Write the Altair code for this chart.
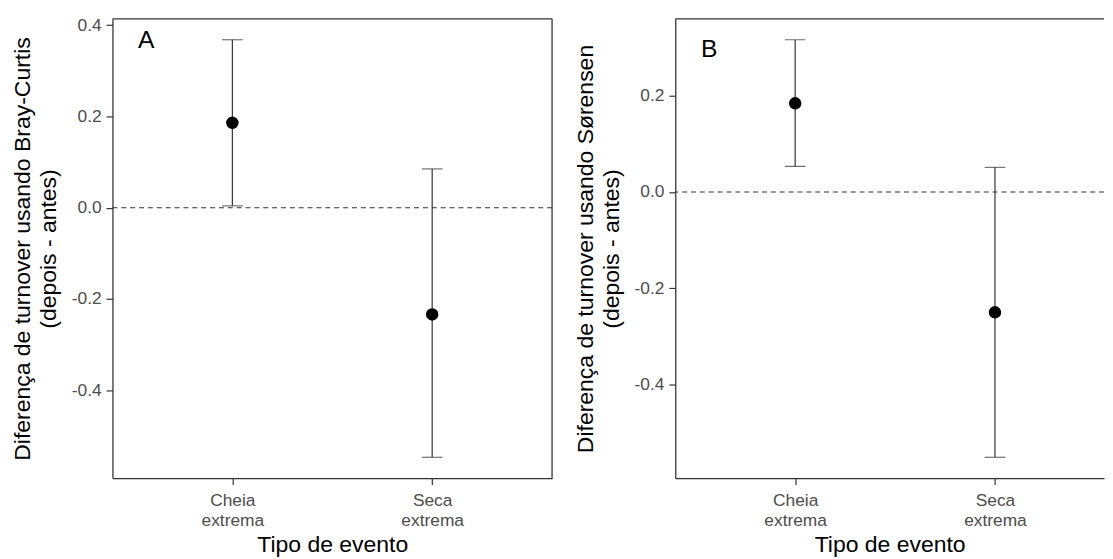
import altair as alt
import pandas as pd

FONT = "Liberation Sans"

# ---- data ----
categories = ["Cheia extrema", "Seca extrema"]
category_lines = [["Cheia", "extrema"], ["Seca", "extrema"]]
positions = [1, 2]

bc_est = [0.186, -0.234]
bc_low = [0.004, -0.547]
bc_high = [0.368, 0.085]

sor_est = [0.184, -0.250]
sor_low = [0.053, -0.551]
sor_high = [0.316, 0.051]

y_ticks_a = [-0.4, -0.2, 0.0, 0.2, 0.4]
y_ticks_b = [-0.4, -0.2, 0.0, 0.2]

panel_letters = ["A", "B"]
y_titles = [
    ["Diferença de turnover usando Bray-Curtis", "(depois - antes)"],
    ["Diferença de turnover usando Sørensen", "(depois - antes)"],
]
x_title = "Tipo de evento"

# ---- layout (pixels) ----
H = 466
W_A = 446
W_B = 435
STEP = W_A / 2.2  # px per category unit (ggplot discrete expansion 0.6)
BORDER = "#333333"


def expanded(lo, hi, mult=0.05):
    r = hi - lo
    return [lo - mult * r, hi + mult * r]


x_label_expr = " : ".join(
    [f"datum.value == {p} ? {lines!r}" for p, lines in zip(positions[:-1], category_lines[:-1])]
    + [repr(category_lines[-1])]
)
y_label_expr = "datum.value < -0.0001 ? '-' + format(-datum.value, '.1f') : format(abs(datum.value), '.1f')"


def panel(est, low, high, yticks, ytitle, letter, width, right_border):
    df = pd.DataFrame({"pos": positions, "cat": categories, "est": est, "low": low, "high": high})
    one = pd.DataFrame({"lab": [letter]})
    ydom = expanded(min(low), max(high))
    xscale = alt.Scale(domain=[0.4, 0.4 + width / STEP], nice=False, zero=False)
    yscale = alt.Scale(domain=ydom, nice=False, zero=False)
    xaxis = alt.Axis(values=positions, labelExpr=x_label_expr, title=x_title,
                     labelLineHeight=20, labelPadding=7.5, titlePadding=5)
    yaxis = alt.Axis(values=yticks, labelExpr=y_label_expr, title=ytitle,
                     titleLineHeight=26, labelPadding=5, titlePadding=11)

    def X(field="pos"):
        return alt.X(f"{field}:Q", scale=xscale, axis=xaxis)

    def Y(field):
        return alt.Y(f"{field}:Q", scale=yscale, axis=yaxis)

    base = alt.Chart(df)
    zero = alt.Chart(pd.DataFrame({"z": [0]})).mark_rule(
        color=BORDER, strokeWidth=1.1, strokeDash=[5, 4]
    ).encode(y=alt.Y("z:Q", scale=yscale, axis=yaxis))
    bars = base.mark_rule(color=BORDER, strokeWidth=1.2).encode(x=X(), y=Y("low"), y2="high:Q")
    cap_lo = base.mark_tick(color=BORDER, orient="horizontal", size=21, thickness=1.2).encode(x=X(), y=Y("low"))
    cap_hi = base.mark_tick(color=BORDER, orient="horizontal", size=21, thickness=1.2).encode(x=X(), y=Y("high"))
    pts = base.mark_point(filled=True, color="black", size=160, opacity=1).encode(x=X(), y=Y("est"))
    txt = alt.Chart(one).mark_text(
        align="left", baseline="alphabetic", fontSize=25, font=FONT, color="black"
    ).encode(text="lab:N", x=alt.value(26), y=alt.value(30 if letter == "A" else 39))
    top = alt.Chart(one).mark_rule(color=BORDER, strokeWidth=1.3).encode(
        x=alt.value(0), x2=alt.value(width), y=alt.value(0)
    )
    layers = [zero, bars, cap_lo, cap_hi, pts, txt, top]
    if right_border:
        layers.append(alt.Chart(one).mark_rule(color=BORDER, strokeWidth=1.3).encode(
            x=alt.value(width), y=alt.value(0), y2=alt.value(H)))
    return alt.layer(*layers).properties(width=width, height=H)


pa = panel(bc_est, bc_low, bc_high, y_ticks_a, y_titles[0], panel_letters[0], W_A, True)
pb = panel(sor_est, sor_low, sor_high, y_ticks_b, y_titles[1], panel_letters[1], W_B, False)

chart = alt.hconcat(pa, pb, spacing=21).properties(
    padding={"left": 3, "top": 4, "right": 0, "bottom": 0}
).configure_view(strokeOpacity=0).configure_axis(
    grid=False, domain=True, domainColor=BORDER, domainWidth=1.3,
    tickColor=BORDER, tickSize=6.5, tickWidth=1.2,
    labelColor="#4d4d4d", labelFontSize=17.6, labelFont=FONT,
    titleFont=FONT, titleFontSize=23.3, titleColor="black", titleFontWeight="normal",
)

chart.save("out.html", embed_options={"renderer": "svg", "actions": False})
